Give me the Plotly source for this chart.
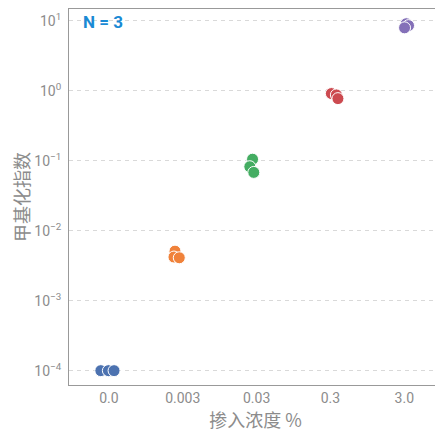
import plotly.graph_objects as go

categories = ["0.0", "0.003", "0.03", "0.3", "3.0"]
colors = ["#4c72b0", "#f0823a", "#44ad62", "#cc4a50", "#8470b8"]
values = [
    [1.0e-4, 1.0e-4, 1.0e-4],
    [5.1e-3, 4.2e-3, 4.1e-3],
    [0.105, 0.082, 0.068],
    [0.91, 0.87, 0.77],
    [9.06, 8.5, 7.9],
]
jitter = [
    [-0.109, -0.007, 0.070],
    [-0.105, -0.119, -0.047],
    [-0.055, -0.092, -0.038],
    [0.012, 0.080, 0.101],
    [0.026, 0.057, 0.003],
]
ytick_exponents = [-4, -3, -2, -1, 0, 1]

ytick_vals = [10.0 ** e for e in ytick_exponents]
ytick_text = ["10<sup>%s</sup>" % (str(e).replace("-", "\u2212")) for e in ytick_exponents]

fig = go.Figure()
for i, cat in enumerate(categories):
    fig.add_trace(go.Scatter(
        x=[i + j for j in jitter[i]],
        y=values[i],
        mode="markers",
        marker=dict(size=12, color=colors[i], line=dict(color="white", width=1)),
        name=cat,
        showlegend=False,
    ))

axis_color = "#999999"
tick_font = dict(family="Roboto", size=14, color="#8c8c8c")
title_font = dict(family="Noto Sans CJK SC", size=18, color="#8c8c8c")

# the page body adds an 8px offset, so the figure is sized to fit the window
fig.update_layout(
    width=435, height=424,
    margin=dict(l=61, r=1, t=1, b=47),
    paper_bgcolor="white", plot_bgcolor="white",
    font=dict(family="Roboto", color="#8c8c8c"),
    xaxis=dict(
        range=[-0.54, 4.51],
        tickmode="array",
        tickvals=list(range(len(categories))),
        ticktext=categories,
        showgrid=False, zeroline=False,
        showline=True, linecolor=axis_color, linewidth=1, mirror=True,
        ticks="", tickfont=tick_font, automargin=False,
        title=dict(text="掺入浓度 %", font=title_font, standoff=4),
    ),
    yaxis=dict(
        type="log",
        range=[-4.205, 1.167],
        tickmode="array",
        tickvals=ytick_vals,
        ticktext=ytick_text,
        showgrid=True, gridcolor="#d9d9d9", griddash="4px,4px", gridwidth=1,
        zeroline=False,
        showline=True, linecolor=axis_color, linewidth=1,
        ticks="", tickfont=tick_font, ticklabelstandoff=4, automargin=False,
        title=dict(text="甲基化指数", font=title_font, standoff=6),
    ),
    annotations=[dict(
        text="<b>N = 3</b>", xref="paper", yref="paper",
        x=0.033, y=0.965, xanchor="left", yanchor="middle", showarrow=False,
        font=dict(family="Roboto", size=17, color="#1a8ad4"),
    )],
)

fig.write_html("out.html")
